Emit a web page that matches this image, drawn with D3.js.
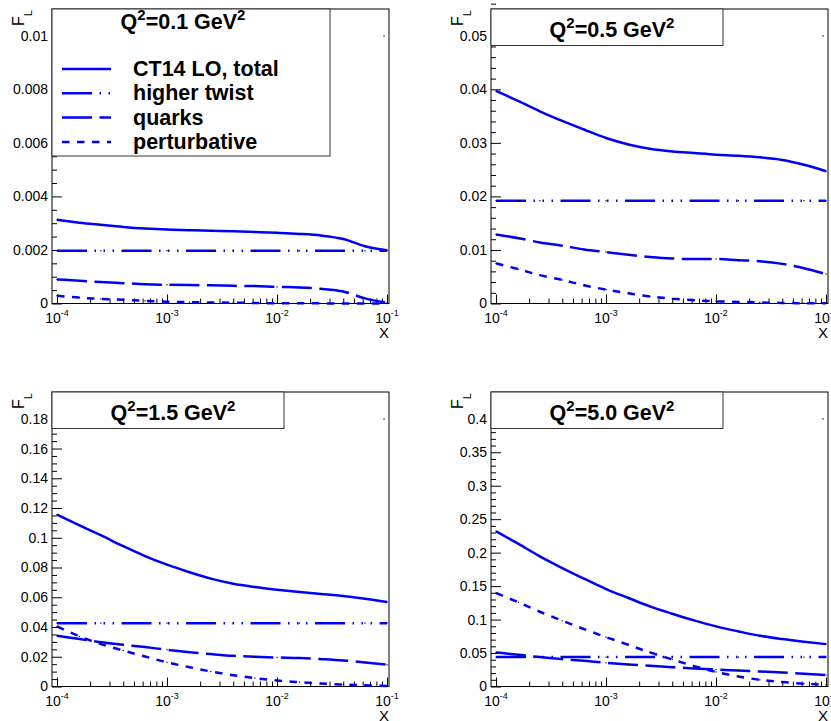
<!DOCTYPE html>
<html>
<head>
<meta charset="utf-8">
<script src="https://cdn.jsdelivr.net/npm/d3@7"></script>
<style>
  body { margin: 0; background: #fff; }
  text { font-family: "Liberation Sans", Arial, Helvetica, sans-serif; }
</style>
</head>
<body>
<svg id="chart" width="831" height="721"></svg>
<script>
// x grid (every 0.2 decade) and values
var xVals = [1e-4, 1.6e-4, 2.5e-4, 4e-4, 6.3e-4, 1e-3, 1.6e-3, 2.5e-3, 4e-3, 6.3e-3,
             1e-2, 1.6e-2, 2.5e-2, 4e-2, 6.3e-2, 1e-1];

var q2Labels = ["0.1", "0.5", "1.5", "5.0"];
var legendLabels = ["CT14 LO, total", "higher twist", "quarks", "perturbative"];

var total01  = [0.00313, 0.00302, 0.00294, 0.00286, 0.0028, 0.00276, 0.00274, 0.00272, 0.0027, 0.00267, 0.00264, 0.0026, 0.00254, 0.00241, 0.00214, 0.00199];
var quarks01 = [0.0009, 0.00085, 0.0008, 0.00076, 0.00072, 0.0007, 0.00069, 0.00068, 0.00066, 0.00065, 0.00062, 0.0006, 0.00055, 0.00045, 0.00019, 0.00003];
var pert01   = [0.00029, 0.00022, 0.00017, 0.00014, 0.0001, 0.00007, 0.00005, 0.00004, 0.00003, 0.00002, 0.00001, 0.00001, 0.000005, 0, 0, 0];

var total05  = [0.0397, 0.0378, 0.0359, 0.0341, 0.0325, 0.0309, 0.0297, 0.0289, 0.0284, 0.0281, 0.0278, 0.0276, 0.0273, 0.0268, 0.0259, 0.0247];
var quarks05 = [0.0129, 0.0122, 0.0114, 0.0108, 0.0101, 0.0096, 0.0091, 0.0087, 0.0084, 0.0083, 0.0083, 0.0081, 0.0079, 0.0074, 0.0066, 0.0055];
var pert05   = [0.0075, 0.0064, 0.0053, 0.0044, 0.0034, 0.0026, 0.0019, 0.0013, 0.0009, 0.0006, 0.0004, 0.0003, 0.0002, 0.0001, 0.00005, 0.00003];

var total15  = [0.1156, 0.1084, 0.1017, 0.0943, 0.0877, 0.0819, 0.0768, 0.0725, 0.0691, 0.0669, 0.0651, 0.0635, 0.0622, 0.0608, 0.059, 0.0568];
var quarks15 = [0.0341, 0.0319, 0.0298, 0.0281, 0.0265, 0.0247, 0.0231, 0.0218, 0.0206, 0.02, 0.0195, 0.0191, 0.0184, 0.0175, 0.0162, 0.0146];
var pert15   = [0.0404, 0.0337, 0.0285, 0.0242, 0.0202, 0.0162, 0.013, 0.0101, 0.0076, 0.0056, 0.004, 0.0029, 0.002, 0.0013, 0.0009, 0.0004];

var total50  = [0.2319, 0.213, 0.1945, 0.177, 0.1611, 0.1456, 0.1322, 0.1197, 0.1087, 0.0988, 0.0898, 0.0823, 0.0758, 0.0708, 0.0668, 0.0633];
var quarks50 = [0.0509, 0.0474, 0.0439, 0.0409, 0.0384, 0.0354, 0.0329, 0.0309, 0.0289, 0.0269, 0.0254, 0.0239, 0.0224, 0.0209, 0.019, 0.017];
var pert50   = [0.1397, 0.1257, 0.1117, 0.0983, 0.0858, 0.0738, 0.0622, 0.051, 0.0405, 0.0305, 0.0218, 0.015, 0.01, 0.0066, 0.0042, 0.0025];

// higher twist is flat in every panel
var twistVals = [0.00197, 0.0192, 0.0426, 0.0439];

// y axis ranges and tick labels
var yMaxes = [0.011, 0.055, 0.198, 0.44];
var yStep = [0.002, 0.01, 0.02, 0.05];
var yMinorDiv = [4, 5, 4, 5];
var yLabels01 = ["0", "0.002", "0.004", "0.006", "0.008", "0.01"];
var yLabels05 = ["0", "0.01", "0.02", "0.03", "0.04", "0.05"];
var yLabels15 = ["0", "0.02", "0.04", "0.06", "0.08", "0.1", "0.12", "0.14", "0.16", "0.18"];
var yLabels50 = ["0", "0.05", "0.1", "0.15", "0.2", "0.25", "0.3", "0.35", "0.4"];
var xTickVals = [1e-4, 1e-3, 1e-2, 1e-1];
var xTickExp = ["-4", "-3", "-2", "-1"];

var panels = [
  { q2: q2Labels[0], total: total01, quarks: quarks01, pert: pert01, twist: twistVals[0], ymax: yMaxes[0], step: yStep[0], div: yMinorDiv[0], labels: yLabels01, ox: 52, oy: 9 },
  { q2: q2Labels[1], total: total05, quarks: quarks05, pert: pert05, twist: twistVals[1], ymax: yMaxes[1], step: yStep[1], div: yMinorDiv[1], labels: yLabels05, ox: 491, oy: 9 },
  { q2: q2Labels[2], total: total15, quarks: quarks15, pert: pert15, twist: twistVals[2], ymax: yMaxes[2], step: yStep[2], div: yMinorDiv[2], labels: yLabels15, ox: 52, oy: 392 },
  { q2: q2Labels[3], total: total50, quarks: quarks50, pert: pert50, twist: twistVals[3], ymax: yMaxes[3], step: yStep[3], div: yMinorDiv[3], labels: yLabels50, ox: 491, oy: 392 }
];

var W = 337, H = 294.5;
var blue = "#0000ff";
var dashes = {
  total: null,
  twist: "30,7.5,1.5,7.5,1.5,7.5,1.5,7.5",
  quarks: "30,7.5",
  pert: "7.5,7.5"
};

var svg = d3.select("#chart");
svg.append("rect").attr("width", 831).attr("height", 721).attr("fill", "#fff");

var x = d3.scaleLog().domain([0.9e-4, 0.1042]).range([0, W]);

function q2Title(sel, q) {
  sel.append("tspan").text("Q");
  sel.append("tspan").text("2").attr("font-size", 15).attr("dy", -9);
  sel.append("tspan").text("=" + q + " GeV").attr("font-size", 21.5).attr("dy", 9);
  sel.append("tspan").text("2").attr("font-size", 15).attr("dy", -9);
}

panels.forEach(function (p, pi) {
  var g = svg.append("g").attr("transform", "translate(" + p.ox + "," + p.oy + ")");
  var y = d3.scaleLinear().domain([0, p.ymax]).range([H, 0]);

  // frame
  g.append("rect").attr("x", 0).attr("y", 0).attr("width", W).attr("height", H)
    .attr("fill", "none").attr("stroke", "#000").attr("stroke-width", 1);

  // y axis, ticks pointing inside
  var nMaj = p.labels.length;
  var majVals = d3.range(nMaj).map(function (i) { return i * p.step; });
  var ms = p.step / p.div;
  var minVals = d3.range(0, Math.round(p.ymax / ms) + 1)
    .filter(function (i) { return i % p.div !== 0; })
    .map(function (i) { return i * ms; });

  var yMin = g.append("g").call(d3.axisLeft(y).tickValues(minVals).tickSize(-5).tickFormat(""));
  var yMaj = g.append("g").call(d3.axisLeft(y).tickValues(majVals)
    .tickFormat(function (d, i) { return p.labels[i]; })
    .tickSizeInner(-10).tickSizeOuter(0).tickPadding(4));
  [yMin, yMaj].forEach(function (a) {
    a.select(".domain").remove();
    a.selectAll("line").attr("stroke", "#000");
  });
  yMaj.selectAll("text").attr("font-size", 14).attr("fill", "#000")
    .style("font-family", "'Liberation Sans', Arial, sans-serif");

  // x axis (log)
  var xMinVals = [];
  [-4, -3, -2].forEach(function (d) {
    for (var m = 2; m <= 9; m++) xMinVals.push(m * Math.pow(10, d));
  });
  var xMin = g.append("g").attr("transform", "translate(0," + H + ")")
    .call(d3.axisBottom(x).tickValues(xMinVals).tickSize(-5).tickFormat(""));
  var xMaj = g.append("g").attr("transform", "translate(0," + H + ")")
    .call(d3.axisBottom(x).tickValues(xTickVals).tickSizeInner(-9).tickSizeOuter(0).tickFormat(""));
  [xMin, xMaj].forEach(function (a) {
    a.select(".domain").remove();
    a.selectAll("line").attr("stroke", "#000");
  });
  xTickVals.forEach(function (v, i) {
    var t = g.append("text").attr("x", x(v)).attr("y", H + 19)
      .attr("text-anchor", "middle").attr("font-size", 14).attr("fill", "#000");
    t.append("tspan").text("10");
    t.append("tspan").text(xTickExp[i]).attr("font-size", 9).attr("dy", -7);
  });

  // axis titles
  g.append("text").attr("x", W).attr("y", H + 34.5).attr("text-anchor", "end")
    .attr("font-size", 15).attr("fill", "#000").text("X");
  var fl = g.append("text").attr("transform", "translate(-28,1) rotate(-90)")
    .attr("text-anchor", "end").attr("font-size", 16).attr("fill", "#000");
  fl.append("tspan").text("F");
  fl.append("tspan").text("L").attr("font-size", 11).attr("dy", 8);

  // curves
  var line = d3.line()
    .x(function (d) { return x(d[0]); })
    .y(function (d) { return y(d[1]); })
    .curve(d3.curveMonotoneX);

  var series = [
    { key: "total", vals: p.total },
    { key: "twist", vals: xVals.map(function () { return p.twist; }) },
    { key: "quarks", vals: p.quarks },
    { key: "pert", vals: p.pert }
  ];
  series.forEach(function (s) {
    var pts = xVals.map(function (xv, i) { return [xv, s.vals[i]]; });
    g.append("path").datum(pts)
      .attr("d", line)
      .attr("fill", "none")
      .attr("stroke", blue)
      .attr("stroke-width", 2.5)
      .attr("stroke-dasharray", dashes[s.key]);
    // tiny black point markers at each data point
    g.selectAll(null).data(pts).enter().append("rect")
      .attr("x", function (d) { return x(d[0]) - 0.6; })
      .attr("y", function (d) { return y(d[1]) - 0.6; })
      .attr("width", 1.2).attr("height", 1.2)
      .attr("fill", "#000");
  });

  // stray range point near the top right
  g.append("rect").attr("x", x(0.094) - 0.8).attr("y", y(p.ymax / 1.1) - 0.5)
    .attr("width", 1.6).attr("height", 1.2).attr("fill", "#333");

  // title / legend box
  if (pi === 0) {
    var lg = g.append("g");
    lg.append("rect").attr("x", 0).attr("y", 0).attr("width", 278).attr("height", 147)
      .attr("fill", "#fff").attr("stroke", "#333").attr("stroke-width", 1);
    var t0 = lg.append("text").attr("x", 131).attr("y", 20).attr("text-anchor", "middle")
      .attr("font-size", 21.5).attr("font-weight", "bold").attr("fill", "#000");
    q2Title(t0, p.q2);
    var keys = ["total", "twist", "quarks", "pert"];
    legendLabels.forEach(function (lab, i) {
      var ly = 60 + i * 24.3;
      lg.append("line").attr("x1", 10).attr("x2", 59).attr("y1", ly).attr("y2", ly)
        .attr("stroke", blue).attr("stroke-width", 2.5)
        .attr("stroke-dasharray", dashes[keys[i]]);
      lg.append("text").attr("x", 81).attr("y", ly + 7)
        .attr("font-size", 21.5).attr("font-weight", "bold").attr("fill", "#000").text(lab);
    });
  } else {
    g.append("rect").attr("x", 0).attr("y", 0).attr("width", 232).attr("height", 36.5)
      .attr("fill", "#fff").attr("stroke", "#333").attr("stroke-width", 1);
    var t = g.append("text").attr("x", 121).attr("y", 27.5).attr("text-anchor", "middle")
      .attr("font-size", 21.5).attr("font-weight", "bold").attr("fill", "#000");
    q2Title(t, p.q2);
  }
});
</script>
</body>
</html>
